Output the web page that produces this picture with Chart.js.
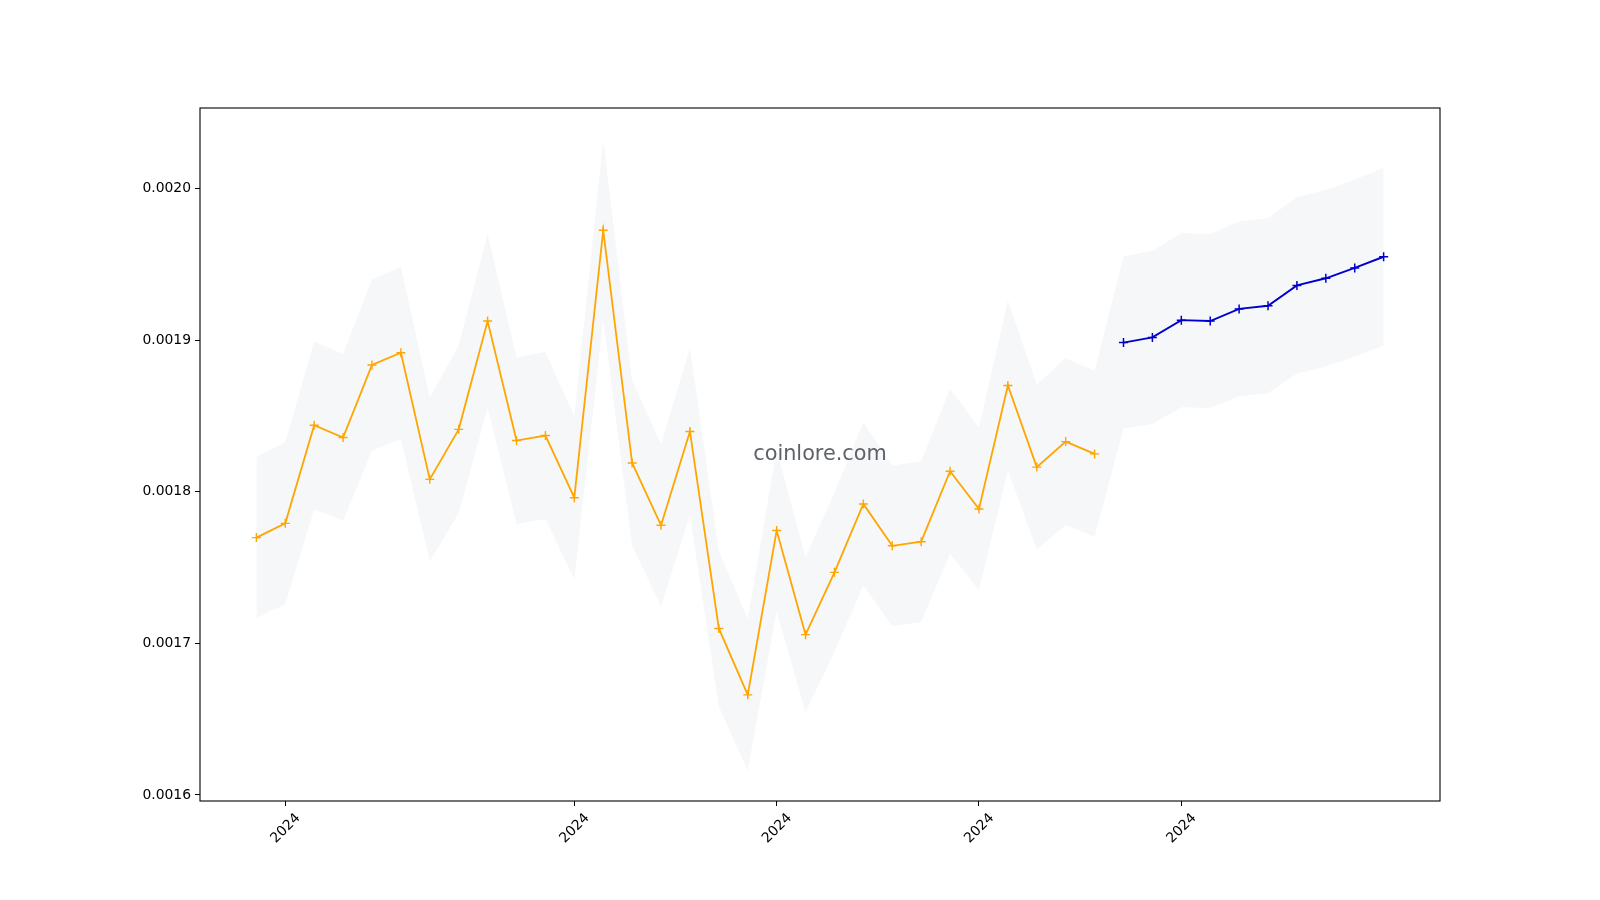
<!DOCTYPE html>
<html>
<head>
<meta charset="utf-8">
<script src="https://cdn.jsdelivr.net/npm/chart.js@4"></script>
<style>
  html, body { margin: 0; padding: 0; background: #fff; }
  canvas { display: block; }
</style>
</head>
<body>
<canvas id="priceChart" width="1600" height="900"></canvas>
<script>
// history (orange) and forecast (blue), one point per day
const historyValues = [
  0.0017697, 0.0017791, 0.0018438, 0.0018357, 0.0018835, 0.0018916, 0.0018081, 0.0018411,
  0.0019125, 0.0018337, 0.0018370, 0.0017960, 0.0019724, 0.0018189, 0.0017778, 0.0018397,
  0.0017098, 0.0016660, 0.0017744, 0.0017057, 0.0017468, 0.0017919, 0.0017643, 0.0017670,
  0.0018135, 0.0017886, 0.0018700, 0.0018162, 0.0018330, 0.0018249
];
const forecastValues = [
  0.0018983, 0.0019017, 0.0019131, 0.0019125, 0.0019205, 0.0019226, 0.0019360, 0.0019407,
  0.0019475, 0.0019549
];
// grey band, upper and lower edge for all 40 days
const bandUpper = [
  0.0018228, 0.0018325, 0.0018991, 0.0018908, 0.0019400, 0.0019483, 0.0018623, 0.0018963,
  0.0019699, 0.0018887, 0.0018921, 0.0018499, 0.0020316, 0.0018735, 0.0018311, 0.0018949,
  0.0017611, 0.0017160, 0.0018276, 0.0017569, 0.0017992, 0.0018457, 0.0018172, 0.0018200,
  0.0018679, 0.0018423, 0.0019261, 0.0018707, 0.0018880, 0.0018796,
  0.0019552, 0.0019588, 0.0019705, 0.0019699, 0.0019781, 0.0019803, 0.0019941, 0.0019989,
  0.0020059, 0.0020135
];
const bandLower = [
  0.0017166, 0.0017257, 0.0017885, 0.0017806, 0.0018270, 0.0018349, 0.0017539, 0.0017859,
  0.0018551, 0.0017787, 0.0017819, 0.0017421, 0.0019132, 0.0017643, 0.0017245, 0.0017845,
  0.0016585, 0.0016160, 0.0017212, 0.0016545, 0.0016944, 0.0017381, 0.0017114, 0.0017140,
  0.0017591, 0.0017349, 0.0018139, 0.0017617, 0.0017780, 0.0017702,
  0.0018414, 0.0018446, 0.0018557, 0.0018551, 0.0018629, 0.0018649, 0.0018779, 0.0018825,
  0.0018891, 0.0018963
];
const xTickPositions = [1, 11, 18, 25, 32];
const xTickLabels = ['2024', '2024', '2024', '2024', '2024'];
const yTickValues = [0.0016, 0.0017, 0.0018, 0.0019, 0.0020];

const toPoints = (arr, start) => arr.map((v, i) => ({ x: start + i, y: v }));

Chart.defaults.font.family = 'DejaVu Sans';
Chart.defaults.font.size = 13.9;
Chart.defaults.color = '#000';

const frameAndMark = {
  id: 'frameAndMark',
  afterDatasetsDraw(chart) {
    const { ctx, chartArea: a } = chart;
    ctx.save();
    ctx.font = '20.8px "DejaVu Sans"';
    ctx.fillStyle = 'rgba(80,84,90,0.92)';
    ctx.textAlign = 'center';
    ctx.textBaseline = 'middle';
    ctx.fillText('coinlore.com', (a.left + a.right) / 2, (a.top + a.bottom) / 2);
    ctx.strokeStyle = '#000';
    ctx.lineWidth = 1.1;
    ctx.strokeRect(a.left, a.top, a.right - a.left, a.bottom - a.top);
    ctx.restore();
  }
};

new Chart(document.getElementById('priceChart'), {
  type: 'line',
  data: {
    datasets: [
      {
        data: toPoints(historyValues, 0),
        borderColor: '#ffa500',
        borderWidth: 1.8,
        pointStyle: 'cross',
        pointRadius: 4.5,
        pointBorderWidth: 1.4,
        pointBorderColor: '#ffa500',
        fill: false
      },
      {
        data: toPoints(forecastValues, historyValues.length),
        borderColor: '#0000cd',
        borderWidth: 1.9,
        pointStyle: 'cross',
        pointRadius: 4.5,
        pointBorderWidth: 1.5,
        pointBorderColor: '#0000cd',
        fill: false
      },
      {
        data: toPoints(bandUpper, 0),
        borderWidth: 0,
        pointRadius: 0,
        backgroundColor: '#f6f7f9',
        fill: '+1'
      },
      {
        data: toPoints(bandLower, 0),
        borderWidth: 0,
        pointRadius: 0,
        fill: false
      }
    ]
  },
  options: {
    responsive: false,
    animation: false,
    layout: { padding: { top: 108, right: 160, left: 0, bottom: 0 } },
    plugins: { legend: { display: false }, tooltip: { enabled: false } },
    scales: {
      x: {
        type: 'linear',
        min: -1.95,
        max: 40.95,
        afterBuildTicks: s => { s.ticks = xTickPositions.map(v => ({ value: v })); },
        afterFit: s => { s.height = 99; },
        border: { display: false },
        grid: { drawOnChartArea: false, drawTicks: true, tickLength: 5, color: '#000', lineWidth: 1 },
        ticks: {
          autoSkip: false,
          minRotation: 45,
          maxRotation: 45,
          padding: 4,
          labelOffset: 13,
          callback: (v, i) => xTickLabels[i]
        }
      },
      y: {
        min: 0.001596,
        max: 0.002053,
        afterBuildTicks: s => { s.ticks = yTickValues.map(v => ({ value: v })); },
        afterFit: s => { s.width = 200; },
        border: { display: false },
        grid: { drawOnChartArea: false, drawTicks: true, tickLength: 5, color: '#000', lineWidth: 1 },
        ticks: {
          padding: 4,
          callback: v => v.toFixed(4)
        }
      }
    }
  },
  plugins: [frameAndMark]
});
</script>
</body>
</html>
